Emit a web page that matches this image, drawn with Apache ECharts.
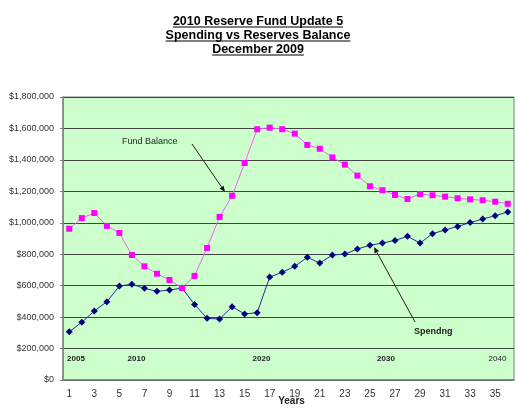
<!DOCTYPE html>
<html>
<head>
<meta charset="utf-8">
<script src="https://cdn.jsdelivr.net/npm/echarts@6/dist/echarts.min.js"></script>
<style>
  html, body { margin: 0; padding: 0; background: #fff; }
  #chart { width: 517px; height: 411px; }
</style>
</head>
<body>
<div id="chart"></div>
<script>
// years since start of plan
const yearIdx = ['1','2','3','4','5','6','7','8','9','10','11','12','13','14','15','16','17','18',
  '19','20','21','22','23','24','25','26','27','28','29','30','31','32','33','34','35','36']

const spending = [307000, 367000, 439000, 498000, 598000, 609000, 583000, 564000, 572000, 585000,
  481000, 392000, 388000, 466000, 420000, 428000, 655000, 685000, 723000, 780000, 744000, 795000,
  801000, 833000, 857000, 871000, 888000, 914000, 871000, 931000, 954000, 977000, 1001000,
  1024000, 1045000, 1069000]

const fundBalance = [962000, 1030000, 1062000, 980000, 935000, 795000, 723000, 676000, 636000, 585000,
  662000, 840000, 1037000, 1172000, 1380000, 1595000, 1605000, 1595000, 1567000, 1495000, 1471000,
  1416000, 1370000, 1300000, 1232000, 1207000, 1177000, 1151000, 1183000, 1175000, 1166000,
  1156000, 1149000, 1143000, 1134000, 1121000]

const titleLines = ['2010 Reserve Fund Update 5', 'Spending vs Reserves Balance', 'December 2009']
const eraLabels = ['2005', '2010', '2020', '2030', '2040']

const FONT = '"Liberation Sans", Arial, sans-serif'
const chart = echarts.init(document.getElementById('chart'))

const measure = (() => {
  const ctx = document.createElement('canvas').getContext('2d')
  return (txt, font) => { ctx.font = font; return ctx.measureText(txt).width }
})()

function titleGraphics() {
  const out = []
  const cx = 258
  const mids = [21.5, 35.5, 49.5]
  const font = 'bold 12.5px ' + FONT
  titleLines.forEach((t, i) => {
    out.push({
      type: 'text',
      style: { x: cx, y: mids[i], text: t, align: 'center', verticalAlign: 'middle', font, fill: '#000' }
    })
    const w = measure(t, font)
    out.push({ type: 'rect', shape: { x: cx - w / 2, y: mids[i] + 5, width: w, height: 1 },
      style: { fill: '#000' } })
  })
  return out
}

function arrow(x1, y1, x2, y2) {
  const a = Math.atan2(y2 - y1, x2 - x1)
  const len = 6, half = 2.5
  const bx = x2 - len * Math.cos(a), by = y2 - len * Math.sin(a)
  const px = -Math.sin(a) * half, py = Math.cos(a) * half
  return [
    { type: 'line', shape: { x1, y1, x2: bx, y2: by }, style: { stroke: '#222', lineWidth: 1 }, z: 20 },
    { type: 'polygon', shape: { points: [[x2, y2], [bx + px, by + py], [bx - px, by - py]] },
      style: { fill: '#111' }, z: 20 }
  ]
}

const eraPos = [[76, 359, true], [136.5, 359, true], [261.5, 359, true], [386, 359, true], [497.5, 359, false]]

const option = {
  animation: false,
  backgroundColor: '#fff',
  textStyle: { fontFamily: FONT },
  grid: { left: 63, right: 3, top: 97, bottom: 31, show: true, backgroundColor: '#CCFFCC',
    borderColor: '#808080', borderWidth: 1, outerBoundsMode: 'none', containLabel: false },
  xAxis: {
    type: 'category',
    data: yearIdx,
    name: 'Years',
    nameLocation: 'middle',
    nameGap: 16,
    nameMoveOverlap: false,
    nameTextStyle: { fontSize: 10, fontWeight: 'bold', color: '#222', padding: [0, 0, 0, 6] },
    axisLine: { lineStyle: { color: '#808080', width: 1.5 } },
    axisTick: { interval: 0, length: 3, lineStyle: { color: '#808080' } },
    axisLabel: { interval: 1, fontSize: 10, color: '#333', margin: 9 },
    splitLine: { show: false }
  },
  yAxis: {
    type: 'value',
    min: 0,
    max: 1800000,
    interval: 200000,
    axisLine: { show: true, lineStyle: { color: '#808080', width: 1.5 } },
    axisTick: { show: true, length: 3, lineStyle: { color: '#808080' } },
    axisLabel: { fontSize: 9, color: '#333', margin: 9,
      formatter: v => '$' + v.toLocaleString('en-US') },
    splitLine: { lineStyle: { color: '#444', width: 1 } }
  },
  series: [
    {
      name: 'Spending',
      type: 'line',
      data: spending,
      symbol: 'diamond',
      symbolSize: 7,
      itemStyle: { color: '#000080' },
      lineStyle: { color: '#1f2f8f', width: 1 },
      z: 3
    },
    {
      name: 'Fund Balance',
      type: 'line',
      data: fundBalance,
      symbol: 'rect',
      symbolSize: 6,
      itemStyle: { color: '#FF00FF' },
      lineStyle: { color: '#f060f0', width: 1 },
      z: 4
    }
  ],
  graphic: [
    ...titleGraphics(),
    { type: 'text', z: 20, style: { x: 122, y: 142, text: 'Fund Balance', verticalAlign: 'middle',
      font: '9px ' + FONT, fill: '#222' } },
    ...arrow(192, 144, 225, 192),
    { type: 'text', z: 20, style: { x: 414, y: 332, text: 'Spendng', verticalAlign: 'middle',
      font: 'bold 9px ' + FONT, fill: '#222' } },
    ...arrow(415, 322, 374, 247),
    ...eraLabels.map((t, i) => ({
      type: 'text', z: 20,
      style: { x: eraPos[i][0], y: eraPos[i][1], text: t, align: 'center', verticalAlign: 'middle',
        font: (eraPos[i][2] ? 'bold ' : '') + '8px ' + FONT, fill: '#222' }
    }))
  ]
}

chart.setOption(option)
</script>
</body>
</html>
